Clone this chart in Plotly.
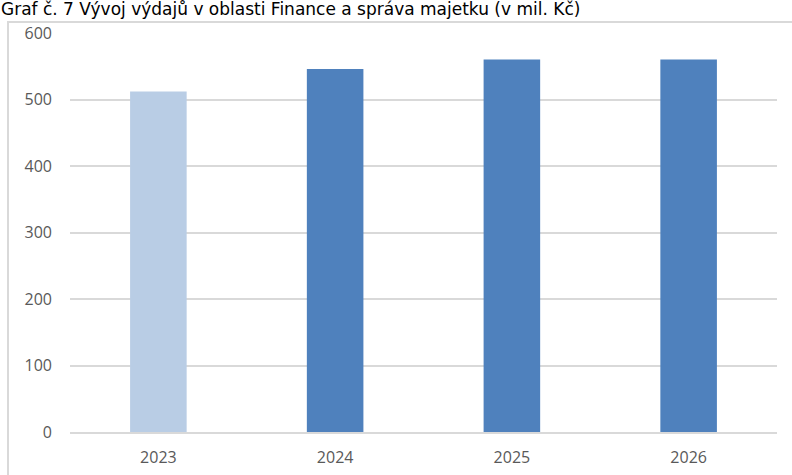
import plotly.graph_objects as go

years = ["2023", "2024", "2025", "2026"]
values = [512, 546, 560, 560]
bar_colors = ["#B9CDE5", "#4F81BD", "#4F81BD", "#4F81BD"]
title_text = "Graf č. 7 Vývoj výdajů v oblasti Finance a správa majetku (v mil. Kč)"

L, R, T, B = 70, 15, 33, 43
W, H = 792, 475
pw, ph = W - L - R, H - T - B

def px_x(p):
    return (p - L) / pw

def px_y(p):
    return 1 - (p - T) / ph

fig = go.Figure(go.Bar(x=years, y=values, marker=dict(color=bar_colors, line=dict(width=0)),
                       hoverinfo="x+y"))

fig.update_layout(
    width=W, height=H,
    margin=dict(l=L, r=R, t=T, b=B, autoexpand=False),
    paper_bgcolor="white", plot_bgcolor="white",
    bargap=0.68,
    showlegend=False,
    font=dict(family="Open Sans", color="#595959", size=16),
    xaxis=dict(showgrid=False, showline=True, linecolor="#d9d9d9", linewidth=2,
               automargin=False,
               ticks="", ticklabelstandoff=10, tickfont=dict(size=16, color="#595959")),
    yaxis=dict(range=[0, 600], dtick=100, showgrid=True, gridcolor="#d9d9d9", gridwidth=2,
               automargin=False,
               zeroline=False, showline=False, ticks="", ticklabelstandoff=17,
               tickfont=dict(size=16, color="#595959")),
    shapes=[dict(type="rect", xref="paper", yref="paper",
                 x0=px_x(8), x1=px_x(W + 10), y0=px_y(H + 10), y1=px_y(22),
                 line=dict(color="#d9d9d9", width=2), layer="below")],
    annotations=[dict(text=title_text, xref="paper", yref="paper", x=px_x(0), y=px_y(-2),
                      xanchor="left", yanchor="top", showarrow=False, borderpad=0,
                      font=dict(family="DejaVu Sans", size=17, color="#000000"))],
)

fig.write_html("out.html", config={"displayModeBar": False},
               post_script="document.body.style.margin='0';")
